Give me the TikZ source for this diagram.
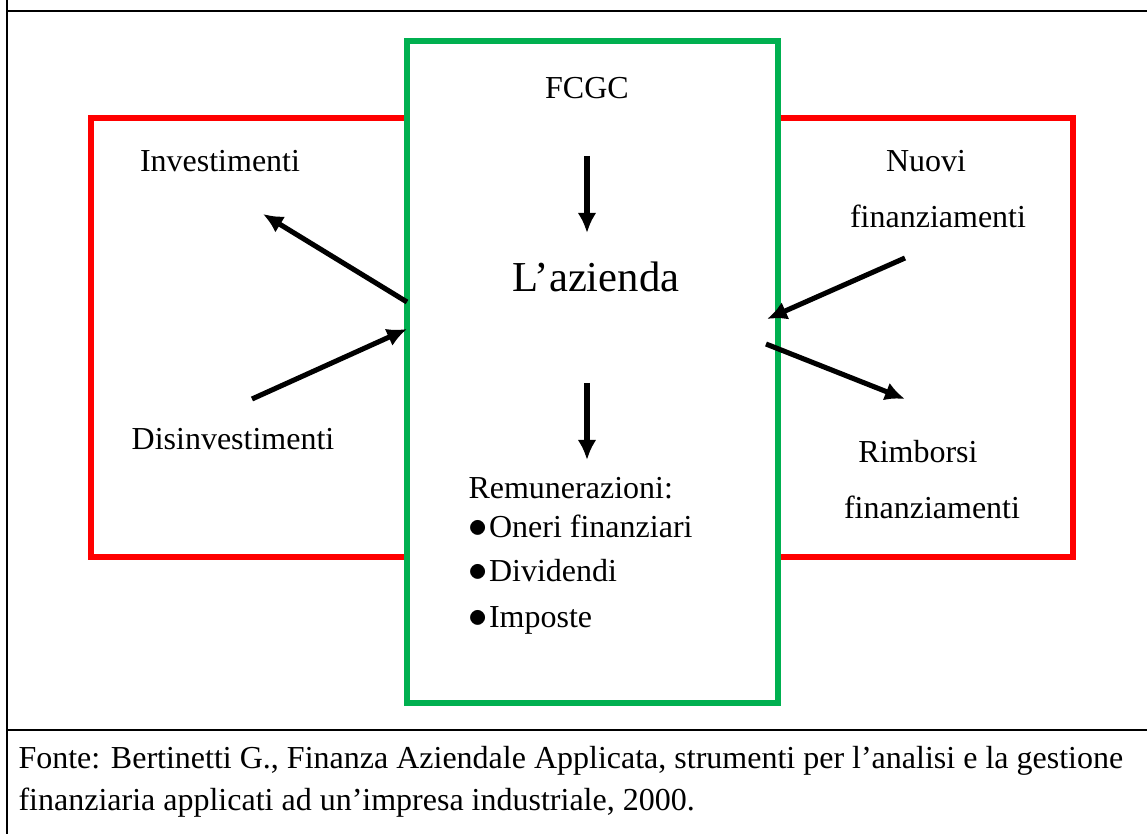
\documentclass[tikz,border=0pt]{standalone}
\usepackage{fontspec}
\setmainfont{Liberation Serif}
\usepackage{tikz}
\usetikzlibrary{arrows.meta}
\definecolor{rosso}{RGB}{255,0,0}
\definecolor{verde}{RGB}{0,176,80}
\newcommand{\punto}{{\fontsize{13.5}{12}\selectfont$\bullet$}\hspace{0.5pt}}

\begin{document}
\begin{tikzpicture}[x=0.375pt,y=-0.375pt,
  testo/.style={inner sep=0pt,anchor=base,font=\fontsize{12}{14}\selectfont},
  freccia/.style={line width=1.9pt,->,>={Latex[length=7.5pt,width=7pt]}}]
\useasboundingbox (0,0) rectangle (1147,834);
\draw [line width=1.1pt] (7,0)--(7,834);
\draw [line width=1.1pt] (7,11)--(1147,11);
\draw [line width=1.1pt] (7,730)--(1147,730);
\draw [rosso,line width=1.9pt] (91,118) rectangle (1073,557);
\draw [verde,line width=1.9pt,fill=white] (407,41) rectangle (778,703);
\node [testo] (fcgc) at (587,99) {FCGC};
\node [testo,font=\fontsize{16}{19}\selectfont] (azienda) at (596,292) {L’azienda};
\node [testo] (inv) at (220,172) {Investimenti};
\node [testo] (disinv) at (233,450) {Disinvestimenti};
\node [testo] (nuovi) at (926,172) {Nuovi};
\node [testo] (nuovifin) at (938,228) {finanziamenti};
\node [testo] (rimb) at (918,463) {Rimborsi};
\node [testo] (rimbfin) at (932,519) {finanziamenti};
\node [testo,anchor=base west] (remun) at (468,499) {Remunerazioni:};
\node [testo,anchor=base west] (oneri) at (468,538) {\punto Oneri finanziari};
\node [testo,anchor=base west] (divid) at (468,582) {\punto Dividendi};
\node [testo,anchor=base west] (impos) at (468,628) {\punto Imposte};
\node [testo,anchor=base west] (fonte1) at (18,768) {Fonte: Bertinetti G., Finanza Aziendale Applicata, strumenti per l’analisi e la gestione};
\node [testo,anchor=base west] (fonte2) at (18,810) {finanziaria applicati ad un’impresa industriale, 2000.};
\coordinate (su1) at (587,156);
\coordinate (giu1) at (587,233);
\coordinate (su2) at (587,383);
\coordinate (giu2) at (587,460);
\coordinate (invda) at (407,302);
\coordinate (inva) at (263,214);
\coordinate (disda) at (252,399);
\coordinate (disa) at (407,329);
\coordinate (nuovida) at (905,258);
\coordinate (nuovia) at (767,319);
\coordinate (rimbda) at (766,344);
\coordinate (rimba) at (905,399);
\draw [freccia] (su1)--(giu1);
\draw [freccia] (su2)--(giu2);
\draw [freccia] (invda)--(inva);
\draw [freccia] (disda)--(disa);
\draw [freccia] (nuovida)--(nuovia);
\draw [freccia] (rimbda)--(rimba);
\end{tikzpicture}
\end{document}
